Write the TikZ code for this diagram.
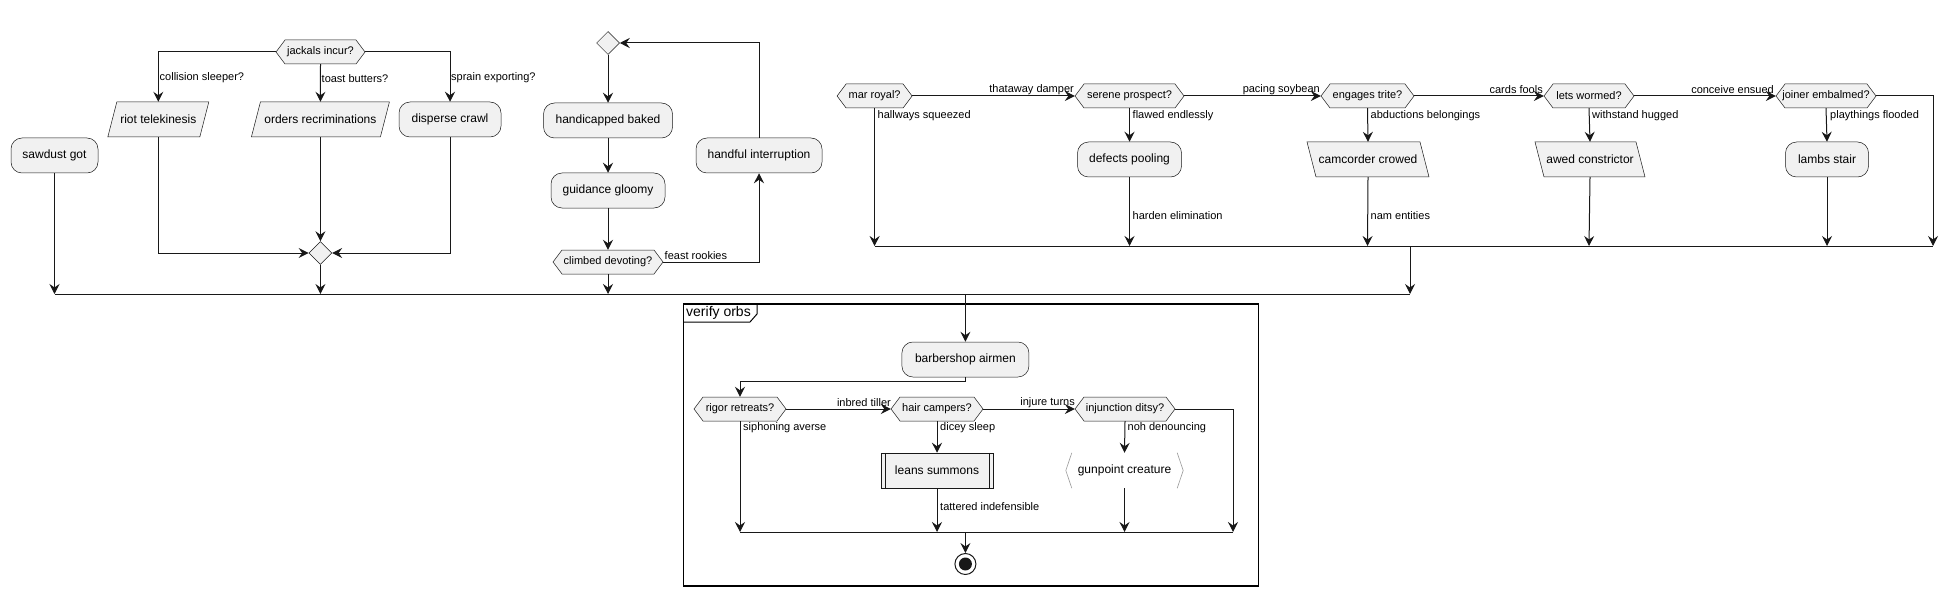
\documentclass[tikz,border=0pt]{standalone}
\usepackage{fontspec}
\setmainfont{Liberation Sans}
\usetikzlibrary{arrows.meta,calc,shapes.geometric}
\definecolor{boxfill}{HTML}{F1F1F1}
\definecolor{linec}{HTML}{181818}
\tikzset{
  shp/.style={draw=linec, line width=0.5pt, fill=boxfill},
  atext/.style={inner sep=0pt, minimum height=35pt, font=\fontsize{12}{14}\selectfont},
  act/.style={shp, atext, rounded corners=11pt},
  dtext/.style={inner sep=0pt, font=\fontsize{11}{13}\selectfont},
  lbl/.style={inner sep=0pt, font=\fontsize{11}{13}\selectfont, anchor=west},
  lblr/.style={inner sep=0pt, font=\fontsize{11}{13}\selectfont, anchor=east},
  conn/.style={draw=linec, line width=1pt, -{Stealth[length=10pt,width=10pt,inset=3.5pt]}},
  plain/.style={draw=linec, line width=1pt},
  mergedia/.style={shp, diamond, aspect=1, inner sep=0pt, minimum width=23pt, minimum height=23pt},
}
% hexagon decision: name, cx, cy, width, text
\newcommand\hexd[5]{%
  \filldraw[shp] ({#2-(#4)/2},#3) -- ({#2-(#4)/2+9},{#3-12}) -- ({#2+(#4)/2-9},{#3-12}) -- ({#2+(#4)/2},#3) -- ({#2+(#4)/2-9},{#3+12}) -- ({#2-(#4)/2+9},{#3+12}) -- cycle;
  \node[dtext, minimum width=#4pt, minimum height=24pt] (#1) at (#2,#3) {#5};}
% parallelogram leaning right "/"
\newcommand\paraR[5]{%
  \filldraw[shp] ({#2-(#4)/2+9},{#3-17.5}) -- ({#2+(#4)/2},{#3-17.5}) -- ({#2+(#4)/2-9},{#3+17.5}) -- ({#2-(#4)/2},{#3+17.5}) -- cycle;
  \node[atext, minimum width=#4pt] (#1) at (#2,#3) {#5};}
% parallelogram leaning left "\"
\newcommand\paraL[5]{%
  \filldraw[shp] ({#2-(#4)/2},{#3-17.5}) -- ({#2+(#4)/2-9},{#3-17.5}) -- ({#2+(#4)/2},{#3+17.5}) -- ({#2-(#4)/2+9},{#3+17.5}) -- cycle;
  \node[atext, minimum width=#4pt] (#1) at (#2,#3) {#5};}
\begin{document}
\begin{tikzpicture}[x=1pt,y=-1pt]
\useasboundingbox[fill=white] (0,0) rectangle (1958,596);

% ---------------- left block ----------------
\hexd{jack}{320.5}{52}{89}{jackals incur?}
\paraR{riot}{158.3}{119.5}{101}{riot telekinesis}
\paraR{orders}{320.4}{119.5}{138}{orders recriminations}
\node[act, minimum width=102pt] (disp) at (450,119.5) {disperse crawl};
\node[act, minimum width=87pt] (saw) at (54.5,155.5) {sawdust got};
\node[mergedia] (merge) at (320.4,253) {};

\draw[conn] (jack.west) -| (riot.north);
\draw[conn] (jack.south) -- (orders.north);
\draw[conn] (jack.east) -| (disp.north);
\node[lbl] at (159.5,78) {collision sleeper?};
\node[lbl] at (321.5,79) {toast butters?};
\node[lbl] at (451,78) {sprain exporting?};
\draw[conn] (riot.south) |- (merge.west);
\draw[conn] (orders.south) -- (merge.north);
\draw[conn] (disp.south) |- (merge.east);

% ---------------- loop block ----------------
\node[mergedia] (ldia) at (608,43) {};
\node[act, minimum width=129pt] (hcap) at (608,120.5) {handicapped baked};
\node[act, minimum width=114pt] (guid) at (608,190.5) {guidance gloomy};
\hexd{climb}{608}{262}{110}{climbed devoting?}
\node[act, minimum width=126pt] (hand) at (759,155.5) {handful interruption};
\draw[conn] (ldia.south) -- (hcap.north);
\draw[conn] (hcap.south) -- (guid.north);
\draw[conn] (guid.south) -- (climb.north);
\draw[conn] (climb.east) -| (hand.south);
\node[lbl] at (664.5,256) {feast rookies};
\draw[conn] (hand.north) |- (ldia.east);

% ---------------- right block ----------------
\hexd{mar}{874.6}{96}{75}{mar royal?}
\hexd{ser}{1129.5}{96}{109}{serene prospect?}
\hexd{eng}{1367.5}{96}{93}{engages trite?}
\hexd{lets}{1589}{96}{90}{lets wormed?}
\hexd{join}{1826}{96}{100}{joiner embalmed?}
\node[act, minimum width=104pt] (def) at (1129.5,159.5) {defects pooling};
\paraL{cam}{1368}{159.5}{122}{camcorder crowed}
\paraL{awed}{1590}{159.5}{110}{awed constrictor}
\node[act, minimum width=83pt] (lamb) at (1827,159.5) {lambs stair};

\draw[conn] (mar.east) -- (ser.west);
\draw[conn] (ser.east) -- (eng.west);
\draw[conn] (eng.east) -- (lets.west);
\draw[conn] (lets.east) -- (join.west);
\node[lblr] at (1074,90) {thataway damper};
\node[lblr] at (1320,90) {pacing soybean};
\node[lblr] at (1543,90) {cards fools};
\node[lblr] at (1774,90) {conceive ensued};

\coordinate (r1) at (874.6,246);
\coordinate (r2) at (1129.5,246);
\coordinate (r3) at (1367.5,246);
\coordinate (r4) at (1589,246);
\coordinate (r5) at (1827,246);
\coordinate (r6) at (1933,246);
\coordinate (r7) at (1410,246);

\draw[conn] (mar.south) -- (r1);
\node[lbl] at (877.5,116) {hallways squeezed};
\draw[conn] (ser.south) -- (def.north);
\node[lbl] at (1132.5,116) {flawed endlessly};
\draw[conn] (def.south) -- (r2);
\node[lbl] at (1132.5,216) {harden elimination};
\draw[conn] (eng.south) -- (cam.north);
\node[lbl] at (1370.5,116) {abductions belongings};
\draw[conn] (cam.south) -- (r3);
\node[lbl] at (1370.5,216) {nam entities};
\draw[conn] (lets.south) -- (awed.north);
\node[lbl] at (1592,116) {withstand hugged};
\draw[conn] (awed.south) -- (r4);
\draw[conn] (join.south) -- (lamb.north);
\node[lbl] at (1830,116) {playthings flooded};
\draw[conn] (lamb.south) -- (r5);
\draw[conn] (join.east) -| (r6);
\draw[plain] (r1) -- (r6);

% ---------------- main bar ----------------
\coordinate (m1) at (54.5,294);
\coordinate (m2) at (320.4,294);
\coordinate (m3) at (608,294);
\coordinate (m4) at (965.4,294);
\coordinate (m5) at (1410,294);
\draw[conn] (saw.south) -- (m1);
\draw[conn] (merge.south) -- (m2);
\draw[conn] (climb.south) -- (m3);
\draw[conn] (r7) -- (m5);
\draw[plain] (m1) -- (m5);

% ---------------- verify orbs frame ----------------
\draw[black, line width=1.5pt] (683.4,304) rectangle (1258.6,586);
\draw[black, line width=1pt] (683.4,322) -- (750,322) -- (757,314) -- (757,304);
\node[inner sep=0pt, anchor=west, font=\fontsize{14}{16}\selectfont] (vo) at (686,312.5) {verify orbs};

\node[act, minimum width=127pt] (barb) at (965.4,359.5) {barbershop airmen};
\draw[conn] (m4) -- (barb.north);
\hexd{rig}{740}{409}{92}{rigor retreats?}
\hexd{hair}{937}{409}{92}{hair campers?}
\hexd{inj}{1125}{409}{100}{injunction ditsy?}
\draw[conn] (barb.south) -- ++(0,4) -| (rig.north);
\draw[conn] (rig.east) -- (hair.west);
\draw[conn] (hair.east) -- (inj.west);
\node[lblr] at (891,403) {inbred tiller};
\node[lblr] at (1075,403) {injure turns};

\node[shp, atext, minimum width=112pt] (leans) at (937,470.5) {leans summons};
\draw[draw=linec, line width=0.5pt] ([xshift=4pt]leans.north west) -- ([xshift=4pt]leans.south west);
\draw[draw=linec, line width=0.5pt] ([xshift=-4pt]leans.north east) -- ([xshift=-4pt]leans.south east);
\node[atext, minimum width=117pt] (gun) at (1124.5,470.5) {gunpoint creature};
\draw[gray!80, line width=0.6pt] ([xshift=6pt]gun.north west) -- (gun.west) -- ([xshift=6pt]gun.south west);
\draw[gray!80, line width=0.6pt] ([xshift=-6pt]gun.north east) -- (gun.east) -- ([xshift=-6pt]gun.south east);

\coordinate (s1) at (740,532);
\coordinate (s2) at (937,532);
\coordinate (s3) at (965.4,532);
\coordinate (s4) at (1124.5,532);
\coordinate (s5) at (1233,532);

\draw[conn] (rig.south) -- (s1);
\node[lbl] at (743,428) {siphoning averse};
\draw[conn] (hair.south) -- (leans.north);
\node[lbl] at (940,428) {dicey sleep};
\draw[conn] (leans.south) -- (s2);
\node[lbl] at (940,507) {tattered indefensible};
\draw[conn] (inj.south) -- (gun.north);
\node[lbl] at (1127.5,428) {noh denouncing};
\draw[conn] (gun.south) -- (s4);
\draw[conn] (inj.east) -| (s5);
\draw[plain] (s1) -- (s5);

\node[circle, draw=linec, line width=1pt, fill=white, minimum size=21pt, inner sep=0pt] (stop) at (965.4,564) {};
\fill[linec] (stop.center) circle (6.5);
\draw[conn] (s3) -- (stop.north);
\end{tikzpicture}
\end{document}
